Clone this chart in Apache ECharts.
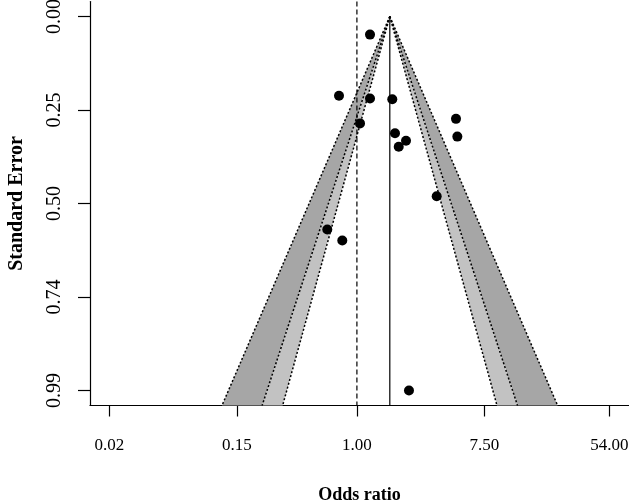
<!DOCTYPE html>
<html><head><meta charset="utf-8">
<script src="https://cdn.jsdelivr.net/npm/echarts@6/dist/echarts.min.js"></script>
<style>html,body{margin:0;padding:0;background:#fff}#c{width:629px;height:504px}</style>
</head><body><div id="c"></div>
<script>
// Study log odds ratios and standard errors
const logOR = [0.207, -0.283, 0.207, 0.559, 0.049, 1.566, 1.587, 0.602, 0.776, 0.661, 1.261, -0.468, -0.231, 0.823];
const stdErr = [0.048, 0.210, 0.217, 0.219, 0.283, 0.271, 0.318, 0.309, 0.329, 0.345, 0.476, 0.564, 0.593, 0.990];
const pooled = 0.52;
const xTickValues = [Math.log(0.02), Math.log(0.15), 0, Math.log(7.5), Math.log(54)];
const xTickLabels = ['0.02', '0.15', '1.00', '7.50', '54.00'];
const yTickValues = [0, 0.2475, 0.495, 0.7425, 0.99];
const yTickLabels = ['0.00', '0.25', '0.50', '0.74', '0.99'];
const contourZ = [2.576, 1.960, 1.645];
const bandColors = ['#a6a6a6', '#c2c2c2'];

const maxSE = Math.max.apply(null, stdErr);
const yMin = -0.04 * maxSE, yMax = 1.04 * maxSE;
const xMin = -4.218, xMax = 4.300;
const FONT = '"Liberation Serif", "Times New Roman", serif';

function lookup(vals, labs, v) {
  let best = 0;
  for (let i = 1; i < vals.length; i++) if (Math.abs(vals[i] - v) < Math.abs(vals[best] - v)) best = i;
  return labs[best];
}

function renderFunnel(params, api) {
  const seB = yMax;
  const apex = api.coord([pooled, 0]);
  const children = [];
  [-1, 1].forEach(function (s) {
    for (let i = 0; i < contourZ.length - 1; i++) {
      const p1 = api.coord([pooled + s * contourZ[i] * seB, seB]);
      const p2 = api.coord([pooled + s * contourZ[i + 1] * seB, seB]);
      children.push({type: 'polygon', shape: {points: [apex, p1, p2]}, style: {fill: bandColors[i]}});
    }
  });
  [-1, 1].forEach(function (s) {
    contourZ.forEach(function (z) {
      const p = api.coord([pooled + s * z * seB, seB]);
      children.push({type: 'line', shape: {x1: apex[0], y1: apex[1], x2: p[0], y2: p[1]},
        style: {stroke: '#000', lineWidth: 1.5, lineDash: [2, 2]}});
    });
  });
  const b = api.coord([pooled, seB]);
  children.push({type: 'line', shape: {x1: apex[0], y1: apex[1], x2: b[0], y2: b[1]},
    style: {stroke: '#000', lineWidth: 1.2}});
  const d1 = api.coord([0, yMin]), d2 = api.coord([0, yMax]);
  children.push({type: 'line', shape: {x1: d1[0], y1: d1[1], x2: d2[0], y2: d2[1]},
    style: {stroke: '#000', lineWidth: 1.2, lineDash: [5, 3]}});
  return {type: 'group', children: children};
}

const chart = echarts.init(document.getElementById('c'), null, {renderer: 'canvas'});
chart.setOption({
  animation: false,
  backgroundColor: '#fff',
  grid: {left: 90, right: 0, top: 1.5, bottom: 98.5, containLabel: false, outerBoundsMode: 'none'},
  xAxis: {
    type: 'value', min: xMin, max: xMax,
    name: 'Odds ratio', nameLocation: 'middle', nameGap: 81,
    nameTextStyle: {fontFamily: FONT, fontSize: 18, fontWeight: 'bold', color: '#000'},
    splitLine: {show: false},
    axisLine: {onZero: false, lineStyle: {color: '#000', width: 1.2}},
    axisTick: {customValues: xTickValues, length: 11, lineStyle: {color: '#000', width: 1.2}},
    axisLabel: {customValues: xTickValues, margin: 32, fontFamily: FONT, fontSize: 17, color: '#000',
      formatter: function (v) { return lookup(xTickValues, xTickLabels, v); }}
  },
  yAxis: {
    type: 'value', inverse: true, min: yMin, max: yMax,
    name: 'Standard Error', nameLocation: 'middle', nameGap: 63, nameRotate: 90,
    nameTextStyle: {fontFamily: FONT, fontSize: 20, fontWeight: 'bold', color: '#000'},
    splitLine: {show: false},
    axisLine: {onZero: false, lineStyle: {color: '#000', width: 1.2}},
    axisTick: {customValues: yTickValues, length: 12, lineStyle: {color: '#000', width: 1.2}},
    axisLabel: {customValues: yTickValues, rotate: 90, margin: 25, fontFamily: FONT, fontSize: 20, color: '#000',
      formatter: function (v) { return lookup(yTickValues, yTickLabels, v); }}
  },
  series: [
    {type: 'custom', renderItem: renderFunnel, data: [[0, 0]], silent: true, z: 1, clip: false},
    {type: 'scatter', data: logOR.map(function (v, i) { return [v, stdErr[i]]; }),
      symbol: 'circle', symbolSize: 10, itemStyle: {color: '#000', opacity: 1}, z: 5}
  ]
});
</script>
</body></html>
